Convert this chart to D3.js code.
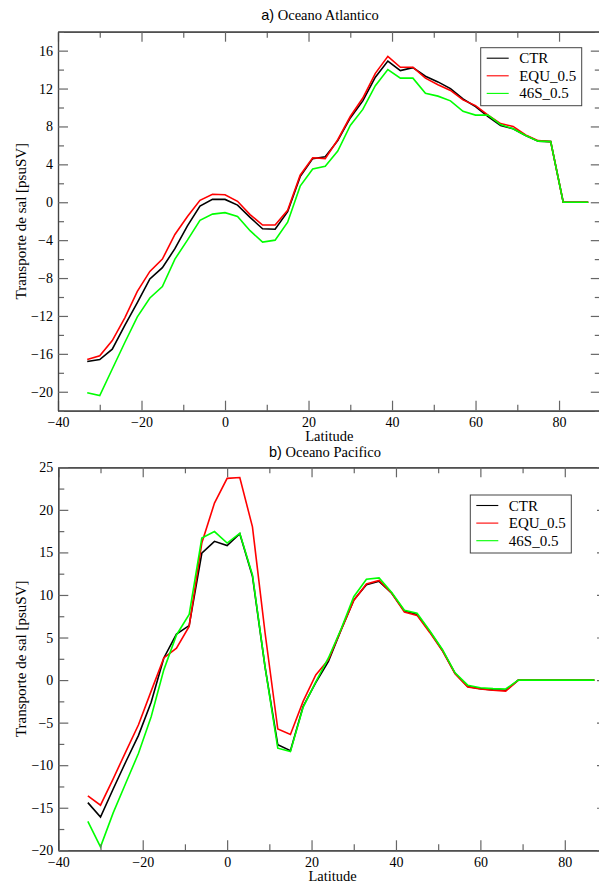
<!DOCTYPE html>
<html>
<head>
<meta charset="utf-8">
<script src="https://cdn.jsdelivr.net/npm/d3@7"></script>
<style>
  body { margin: 0; background: #fff; }
  svg text { font-family: "Liberation Serif", "DejaVu Serif", "Times New Roman", serif; }
  svg text tspan.tag { font-family: "Liberation Sans", "DejaVu Sans", Arial, sans-serif; }
</style>
</head>
<body>
<svg width="599" height="888"></svg>
<script>
// latitudes of the model grid (same for both oceans)
var lat = [-33, -30, -27, -24, -21, -18, -15, -12, -9, -6, -3, 0, 3, 6, 9, 12, 15, 18, 21, 24, 27,
           30, 33, 36, 39, 42, 45, 48, 51, 54, 57, 60, 63, 66, 69, 72, 75, 78, 81, 84, 87];

// a) Atlantic salt transport
var atlCTR = [-16.8, -16.6, -15.5, -13.0, -10.6, -8.1, -6.9, -4.9, -2.5, -0.4, 0.3, 0.3, -0.3, -1.6, -2.8, -2.85, -1.0, 2.7, 4.6, 4.8, 6.5,
              8.9, 10.7, 13.2, 14.9, 13.9, 14.2, 13.3, 12.7, 12.0, 10.9, 10.1, 9.05, 8.1, 7.75, 7.05, 6.45, 6.4, 0, 0, 0];
var atlEQU = [-16.6, -16.2, -14.6, -12.2, -9.4, -7.3, -6.0, -3.4, -1.5, 0.2, 0.85, 0.8, 0.1, -1.3, -2.4, -2.4, -0.85, 2.85, 4.7, 4.6, 6.6,
              9.05, 11.0, 13.6, 15.4, 14.25, 14.25, 13.1, 12.4, 11.8, 10.8, 10.2, 9.2, 8.3, 8.0, 7.1, 6.5, 6.4, 0, 0, 0];
var atl46S = [-20.1, -20.4, -17.6, -14.8, -12.1, -10.1, -8.9, -6.0, -4.0, -1.9, -1.25, -1.1, -1.5, -3.0, -4.2, -4.0, -2.1, 1.7, 3.5, 3.8, 5.4,
              8.1, 9.8, 12.3, 14.0, 13.1, 13.1, 11.5, 11.2, 10.7, 9.6, 9.2, 9.2, 8.2, 7.75, 7.05, 6.45, 6.4, 0, 0, 0];

// b) Pacific salt transport
var pacCTR = [-14.4, -16.1, -12.8, -9.6, -6.5, -2.6, 2.6, 5.4, 6.4, 14.9, 16.3, 15.8, 17.2, 12.2, 1.5, -7.6, -8.3, -3.1, -0.3, 2.2, 5.9,
              9.4, 11.2, 11.6, 10.2, 8.1, 7.7, 5.7, 3.5, 0.8, -0.75, -1.0, -1.15, -1.2, 0, 0, 0, 0, 0, 0, 0];
var pacEQU = [-13.6, -14.7, -11.6, -8.4, -5.25, -1.3, 2.6, 3.75, 6.3, 16.1, 20.8, 23.7, 23.8, 18.0, 5.5, -5.75, -6.4, -2.5, 0.6, 2.4, 5.9,
              9.35, 11.3, 11.7, 10.2, 8.0, 7.6, 5.6, 3.45, 0.75, -0.8, -1.05, -1.2, -1.3, 0, 0, 0, 0, 0, 0, 0];
var pac46S = [-16.6, -19.6, -15.6, -12.1, -8.6, -4.3, 1.2, 5.3, 7.7, 16.7, 17.45, 16.1, 17.25, 12.35, 1.5, -8.0, -8.4, -3.2, -0.2, 2.6, 6.0,
              9.8, 11.85, 12.0, 10.3, 8.2, 7.85, 5.8, 3.6, 0.85, -0.6, -0.9, -1.0, -1.05, 0, 0, 0, 0, 0, 0, 0];

var seriesNames = ["CTR", "EQU_0.5", "46S_0.5"];
var seriesColors = ["#000000", "#ff0000", "#00ff00"];

var xTicks = [-40, -20, 0, 20, 40, 60, 80];
var xMinor = [-30, -10, 10, 30, 50, 70, 90];
var atlYTicks = [-20, -16, -12, -8, -4, 0, 4, 8, 12, 16];
var atlYMinor = [-22, -18, -14, -10, -6, -2, 2, 6, 10, 14, 18];
var pacYTicks = [-20, -15, -10, -5, 0, 5, 10, 15, 20, 25];
var pacYMinor = [-17.5, -12.5, -7.5, -2.5, 2.5, 7.5, 12.5, 17.5, 22.5];

var svg = d3.select("svg");

function panel(p) {
  var x = d3.scaleLinear().domain([-40, 90]).range(p.xr),
      y = d3.scaleLinear().domain(p.yd).range(p.yr);
  var g = svg.append("g");

  // curves
  var line = d3.line().x(function(d) { return x(d[0]); }).y(function(d) { return y(d[1]); });
  p.series.forEach(function(s, i) {
    g.append("path")
     .datum(lat.map(function(l, j) { return [l, s[j]]; }))
     .attr("fill", "none")
     .attr("stroke", seriesColors[i])
     .attr("stroke-width", 1.6)
     .attr("d", line);
  });

  // axes: ticks point inward on all four sides
  function style(a) {
    a.attr("font-family", null);
    a.selectAll(".tick line").attr("stroke", "#666").attr("stroke-width", 1.2);
    a.select(".domain").attr("stroke", "#444").attr("stroke-width", 1.2);
    a.selectAll("text").attr("font-size", 14).attr("fill", "#000");
  }
  var y0 = p.yr[0], y1 = p.yr[1], x0 = p.xr[0], x1 = p.xr[1];
  g.append("g").attr("transform", "translate(0," + y0 + ")")
   .call(d3.axisBottom(x).tickValues(xMinor).tickSizeInner(-6).tickSizeOuter(0).tickFormat("")).call(style);
  g.append("g").attr("transform", "translate(0," + y0 + ")")
   .call(d3.axisBottom(x).tickValues(xTicks).tickSizeInner(-10).tickSizeOuter(0).tickPadding(6.5)).call(style);
  g.append("g").attr("transform", "translate(0," + y1 + ")")
   .call(d3.axisTop(x).tickValues(xMinor).tickSizeInner(-6).tickSizeOuter(0).tickFormat("")).call(style);
  g.append("g").attr("transform", "translate(0," + y1 + ")")
   .call(d3.axisTop(x).tickValues(xTicks).tickSizeInner(-10).tickSizeOuter(0).tickFormat("")).call(style);
  g.append("g").attr("transform", "translate(" + x0 + ",0)")
   .call(d3.axisLeft(y).tickValues(p.yMinor).tickSizeInner(-6).tickSizeOuter(0).tickFormat("")).call(style);
  g.append("g").attr("transform", "translate(" + x0 + ",0)")
   .call(d3.axisLeft(y).tickValues(p.yTicks).tickSizeInner(-10).tickSizeOuter(0).tickPadding(5)).call(style);
  g.append("g").attr("transform", "translate(" + x1 + ",0)")
   .call(d3.axisRight(y).tickValues(p.yMinor).tickSizeInner(-6).tickSizeOuter(0).tickFormat("")).call(style);
  g.append("g").attr("transform", "translate(" + x1 + ",0)")
   .call(d3.axisRight(y).tickValues(p.yTicks).tickSizeInner(-10).tickSizeOuter(0).tickFormat("")).call(style);

  // title
  var t = svg.append("text").attr("x", p.titleX).attr("y", p.titleY)
             .attr("text-anchor", "middle").attr("font-size", 14.5);
  t.append("tspan").attr("class", "tag").text(p.tag + ")");
  t.append("tspan").text(" " + p.title);

  // axis titles
  svg.append("text").attr("x", (x0 + x1) / 2).attr("y", y0 + 30.5)
     .attr("text-anchor", "middle").attr("font-size", 14.5).text("Latitude");
  svg.append("text").attr("transform", "translate(26," + (y0 + y1) / 2 + ") rotate(-90)")
     .attr("text-anchor", "middle").attr("font-size", 15).text("Transporte de sal [psuSV]");

  // legend
  var L = p.legend;
  svg.append("rect").attr("x", L.x).attr("y", L.y).attr("width", 101).attr("height", 58)
     .attr("fill", "#fff").attr("stroke", "#444").attr("stroke-width", 1);
  seriesNames.forEach(function(n, i) {
    var cy = L.y + 10.5 + i * 17.6;
    svg.append("line").attr("x1", L.x + 6).attr("x2", L.x + 28).attr("y1", cy).attr("y2", cy)
       .attr("stroke", seriesColors[i]).attr("stroke-width", 1.1);
    svg.append("text").attr("x", L.x + 38.5).attr("y", cy + 5).attr("font-size", 15).text(n);
  });
}

panel({
  xr: [58, 600.8], yr: [410.7, 31.7], yd: [-22, 18],
  yTicks: atlYTicks, yMinor: atlYMinor,
  series: [atlCTR, atlEQU, atl46S],
  tag: "a", title: "Oceano Atlantico", titleX: 320, titleY: 20,
  legend: { x: 480.7, y: 47.7 }
});

panel({
  xr: [58.3, 607], yr: [850.3, 467.3], yd: [-20, 25],
  yTicks: pacYTicks, yMinor: pacYMinor,
  series: [pacCTR, pacEQU, pac46S],
  tag: "b", title: "Oceano Pacifico", titleX: 325, titleY: 457,
  legend: { x: 470.3, y: 495 }
});
</script>
</body>
</html>
